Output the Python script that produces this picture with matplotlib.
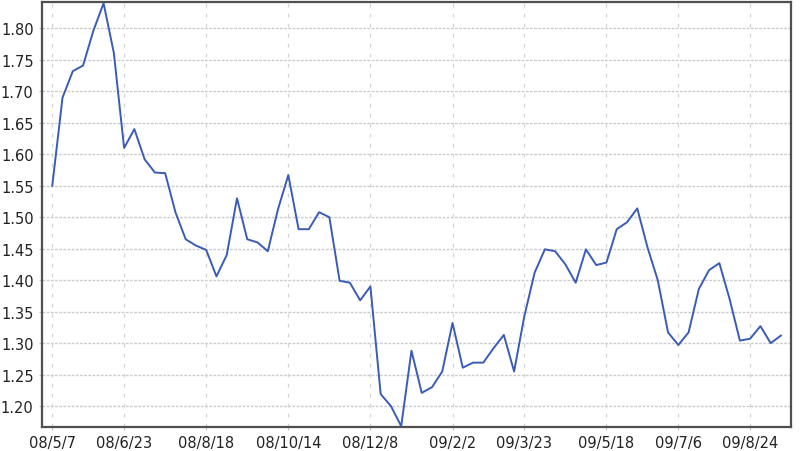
import matplotlib
matplotlib.use("Agg")
import matplotlib.pyplot as plt

# weekly prices
prices = [
    1.550, 1.690, 1.732, 1.741, 1.796, 1.840, 1.761, 1.610, 1.640, 1.592,
    1.571, 1.570, 1.508, 1.465, 1.455, 1.448, 1.406, 1.440, 1.530, 1.465,
    1.460, 1.446, 1.513, 1.567, 1.481, 1.481, 1.508, 1.500, 1.399, 1.396,
    1.368, 1.390, 1.219, 1.200, 1.168, 1.288, 1.221, 1.230, 1.255, 1.332,
    1.261, 1.269, 1.269, 1.292, 1.313, 1.255, 1.343, 1.412, 1.449, 1.446,
    1.425, 1.396, 1.449, 1.424, 1.428, 1.481, 1.492, 1.514, 1.452, 1.400,
    1.317, 1.297, 1.317, 1.386, 1.416, 1.427, 1.370, 1.304, 1.307, 1.327,
    1.300, 1.312,
]
tick_idx = [0, 7, 15, 23, 31, 39, 46, 54, 61, 68]
tick_labels = ["08/5/7", "08/6/23", "08/8/18", "08/10/14", "08/12/8",
               "09/2/2", "09/3/23", "09/5/18", "09/7/6", "09/8/24"]
y_ticks = [1.20, 1.25, 1.30, 1.35, 1.40, 1.45, 1.50, 1.55, 1.60, 1.65, 1.70, 1.75, 1.80]

fig = plt.figure(figsize=(8, 4.52), dpi=100)
ax = fig.add_axes([0.0525, 0.053, 0.9365, 0.9405])

ax.plot(range(len(prices)), prices, color="#3a5cb4", lw=1.4, zorder=3)

ax.set_xlim(-1, 72)
ax.set_ylim(1.1667, 1.842)
ax.set_xticks(tick_idx)
ax.set_xticklabels(tick_labels)
ax.set_yticks(y_ticks)
ax.set_yticklabels([f"{v:.2f}" for v in y_ticks])

for y in y_ticks:
    ax.axhline(y, color="#cccccc", lw=1.0, ls=(0, (2, 1)), zorder=1)
for x in tick_idx:
    ax.axvline(x, color="#d4d4d4", lw=0.9, ls=(0, (3, 5)), zorder=1)

for s in ax.spines.values():
    s.set_color("#505050")
    s.set_linewidth(1.6)

ax.tick_params(axis="both", length=2, color="#c0c0c0", labelsize=10.5,
               labelcolor="#222222", pad=4)

fig.savefig("out.png", dpi=100)
